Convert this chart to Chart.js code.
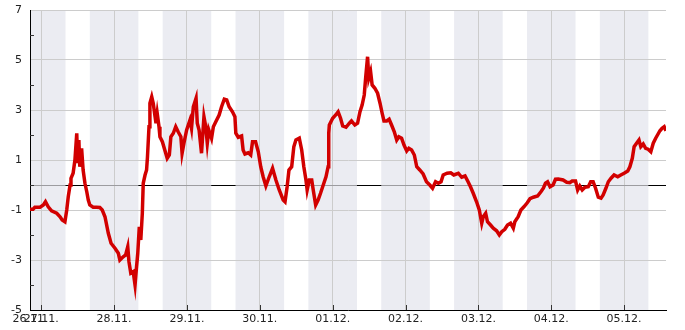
<!DOCTYPE html>
<html>
<head>
<meta charset="utf-8">
<script src="https://cdn.jsdelivr.net/npm/chart.js@4.4.1/dist/chart.umd.min.js"></script>
<style>
  html, body { margin: 0; padding: 0; background: #fff; }
  #chart { display: block; }
</style>
</head>
<body>
<canvas id="chart" width="685" height="330"></canvas>
<script>
// x in hours since 26.11. 00:00
const X_MIN = 20.3;
const X_MAX = 229.8;
const DAY_TICKS = [X_MIN, 24, 48, 72, 96, 120, 144, 168, 192, 216];
const DAY_LABELS = ['26.11.', '27.11.', '28.11.', '29.11.', '30.11.', '01.12.', '02.12.', '03.12.', '04.12.', '05.12.'];
// night shading, centred on midnight, +-8h
const NIGHT_CENTERS = [24, 48, 72, 96, 120, 144, 168, 192, 216];
const NIGHT_HALF = 8;
const Y_MIN = -5;
const Y_MAX = 7;

// [hour, value]
const POINTS = [
  [20.3,-0.97],[21.3,-0.97],[21.9,-0.89],[23.6,-0.89],[24.7,-0.8],[25.4,-0.67],[26.3,-0.87],[27.4,-1.03],
  [29.1,-1.13],[30.2,-1.27],[30.9,-1.4],[31.8,-1.47],[32.4,-1.0],[32.9,-0.47],[33.5,0.0],[33.8,0.27],
  [34.5,0.47],[35.1,1.0],[35.7,2.07],[36.0,0.87],[36.4,1.8],[36.7,0.73],[37.3,1.47],[37.8,0.6],
  [38.4,0.07],[39.0,-0.27],[39.5,-0.6],[40.0,-0.8],[41.1,-0.89],[42.2,-0.89],[43.3,-0.9],[44.1,-1.0],
  [45.0,-1.27],[46.1,-1.93],[47.0,-2.33],[48.3,-2.53],[49.4,-2.73],[49.9,-3.0],[51.0,-2.87],[51.8,-2.8],
  [52.5,-2.47],[52.9,-3.07],[53.5,-3.53],[54.3,-3.47],[54.9,-4.0],[55.4,-3.27],[55.8,-2.73],[56.3,-1.67],
  [56.8,-2.2],[57.3,-1.13],[57.6,0.07],[58.2,0.4],[58.7,0.6],[59.0,1.13],[59.5,2.33],[59.8,3.27],
  [60.4,3.53],[60.9,3.27],[61.5,2.73],[61.8,2.47],[62.2,2.87],[62.8,2.33],[63.1,1.93],[63.9,1.73],
  [64.7,1.4],[65.5,1.07],[66.2,1.2],[66.7,1.93],[67.5,2.07],[68.3,2.33],[69.1,2.13],[70.0,1.93],
  [70.4,1.27],[71.1,1.73],[71.9,2.2],[73.0,2.6],[73.5,2.27],[74.1,3.13],[75.0,3.47],[75.4,2.47],
  [76.0,2.2],[76.8,1.27],[77.6,2.73],[78.2,2.33],[78.7,1.67],[79.2,2.2],[80.1,1.87],[80.7,2.33],
  [81.5,2.53],[82.6,2.8],[83.4,3.13],[84.3,3.43],[85.1,3.4],[85.9,3.13],[87.0,2.93],[87.8,2.73],
  [88.1,2.07],[88.9,1.91],[90.0,1.96],[90.5,1.4],[91.1,1.24],[92.2,1.29],[93.0,1.2],[93.6,1.73],
  [94.6,1.73],[95.5,1.33],[96.3,0.73],[97.1,0.33],[98.0,-0.04],[99.1,0.33],[100.2,0.67],[101.3,0.2],
  [102.4,-0.2],[103.7,-0.6],[104.3,-0.67],[105.0,-0.07],[105.6,0.6],[106.5,0.73],[107.2,1.53],[107.9,1.8],
  [109.0,1.87],[109.8,1.4],[110.5,0.73],[111.2,0.2],[111.6,-0.2],[112.3,0.2],[113.1,0.2],[113.6,-0.2],
  [114.4,-0.8],[115.2,-0.6],[116.0,-0.33],[116.9,0.0],[117.8,0.33],[118.5,0.73],[118.7,2.07],[118.9,2.4],
  [120.0,2.67],[121.0,2.8],[121.8,2.93],[122.6,2.67],[123.3,2.36],[124.4,2.31],[125.5,2.47],[126.2,2.56],
  [127.3,2.4],[128.2,2.47],[129.0,2.93],[129.7,3.2],[130.4,3.6],[130.9,4.33],[131.5,5.13],[131.9,4.27],
  [132.5,4.53],[133.0,4.0],[133.9,3.87],[134.8,3.67],[135.6,3.27],[136.3,2.87],[136.9,2.56],[137.8,2.56],
  [138.6,2.63],[139.4,2.4],[140.3,2.13],[141.1,1.8],[141.8,1.93],[142.7,1.87],[143.5,1.6],[144.4,1.36],
  [145.1,1.47],[146.0,1.4],[146.9,1.2],[147.7,0.73],[148.7,0.6],[149.8,0.44],[150.9,0.13],[152.0,0.0],
  [152.9,-0.13],[153.9,0.13],[154.8,0.07],[155.7,0.13],[156.4,0.4],[157.7,0.47],[158.9,0.49],[159.9,0.4],
  [161.4,0.47],[162.5,0.31],[163.6,0.36],[164.6,0.13],[165.4,-0.07],[166.3,-0.33],[167.4,-0.67],[168.3,-1.0],
  [169.1,-1.53],[169.6,-1.27],[170.4,-1.13],[171.0,-1.47],[172.0,-1.6],[172.9,-1.73],[174.0,-1.83],[174.9,-2.0],
  [175.7,-1.87],[176.7,-1.77],[177.6,-1.6],[178.6,-1.53],[179.5,-1.73],[180.0,-1.47],[181.1,-1.27],[182.0,-1.0],
  [183.0,-0.87],[184.1,-0.71],[185.0,-0.55],[186.1,-0.49],[187.5,-0.44],[188.6,-0.27],[189.4,-0.13],[190.1,0.07],
  [190.8,0.13],[191.6,-0.07],[192.6,0.0],[193.4,0.23],[194.3,0.24],[195.9,0.2],[197.1,0.11],[198.1,0.09],
  [198.9,0.16],[200.0,0.16],[200.7,-0.2],[201.4,-0.04],[202.2,-0.2],[203.1,-0.09],[204.2,-0.07],[205.0,0.13],
  [205.8,0.13],[206.6,-0.13],[207.5,-0.49],[208.4,-0.53],[209.1,-0.4],[210.0,-0.13],[210.8,0.13],[211.7,0.27],
  [212.7,0.4],[213.9,0.33],[214.9,0.4],[216.0,0.47],[217.2,0.56],[217.9,0.73],[218.7,1.07],[219.3,1.53],
  [220.1,1.67],[220.9,1.8],[221.5,1.53],[222.3,1.64],[223.1,1.47],[223.9,1.43],[224.8,1.33],[225.6,1.67],
  [226.4,1.87],[227.0,2.0],[227.8,2.17],[228.5,2.27],[229.2,2.33],[229.8,2.17]
];

const FONT = { family: 'DejaVu Sans', size: 11 };
const BAND_COLOR = '#ebecf2';

// grey night bands, under the grid
const bandsPlugin = {
  id: 'bands',
  beforeDraw(chart) {
    const { ctx, chartArea: a, scales: { x } } = chart;
    ctx.save();
    ctx.fillStyle = BAND_COLOR;
    for (const c of NIGHT_CENTERS) {
      const x0 = Math.max(a.left, x.getPixelForValue(c - NIGHT_HALF));
      const x1 = Math.min(a.right, x.getPixelForValue(c + NIGHT_HALF));
      if (x1 > x0) ctx.fillRect(x0, a.top, x1 - x0, a.bottom - a.top);
    }
    ctx.restore();
  },
  beforeDatasetsDraw(chart) {
    const { ctx, chartArea: a, scales: { x, y } } = chart;
    ctx.save();
    // zero line: black, greyed inside the bands
    const y0 = Math.round(y.getPixelForValue(0)) + 0.5;
    ctx.lineWidth = 1;
    ctx.strokeStyle = '#000';
    ctx.beginPath(); ctx.moveTo(a.left, y0); ctx.lineTo(a.right, y0); ctx.stroke();
    ctx.strokeStyle = '#9c9ca0';
    for (const c of NIGHT_CENTERS) {
      const x0 = Math.max(a.left, x.getPixelForValue(c - NIGHT_HALF));
      const x1 = Math.min(a.right, x.getPixelForValue(c + NIGHT_HALF));
      if (x1 > x0) { ctx.beginPath(); ctx.moveTo(x0, y0); ctx.lineTo(x1, y0); ctx.stroke(); }
    }
    // inward tick marks
    ctx.strokeStyle = '#333';
    for (let v = Y_MIN; v <= Y_MAX; v++) {
      if (Math.abs(v % 2) === 1) continue;
      const py = Math.round(y.getPixelForValue(v)) + 0.5;
      ctx.beginPath(); ctx.moveTo(a.left, py); ctx.lineTo(a.left + 4, py); ctx.stroke();
    }
    for (const t of DAY_TICKS.slice(1)) {
      const px = Math.round(x.getPixelForValue(t)) + 0.5;
      ctx.beginPath(); ctx.moveTo(px, a.bottom); ctx.lineTo(px, a.bottom - 5); ctx.stroke();
    }
    ctx.restore();
  }
};

new Chart(document.getElementById('chart'), {
  type: 'line',
  data: {
    datasets: [{
      data: POINTS.map(([h, v]) => ({ x: h, y: v })),
      borderColor: '#d20000',
      borderWidth: 3.5,
      pointRadius: 0,
      tension: 0,
      fill: false,
    }],
  },
  options: {
    responsive: false,
    animation: false,
    events: [],
    layout: { padding: { top: 10, right: 19, left: 0, bottom: 0 } },
    plugins: { legend: { display: false }, tooltip: { enabled: false } },
    scales: {
      x: {
        type: 'linear',
        min: X_MIN,
        max: X_MAX,
        afterBuildTicks: (scale) => { scale.ticks = DAY_TICKS.map(v => ({ value: v })); },
        afterFit: (scale) => { scale.height = 20; },
        grid: {
          drawTicks: false,
          color: (c) => (c.index === 0 ? 'rgba(0,0,0,0)' : '#cccccc'),
        },
        border: { display: true, color: '#000', width: 1 },
        ticks: {
          autoSkip: false,
          maxRotation: 0,
          minRotation: 0,
          padding: 3,
          color: '#222',
          font: FONT,
          callback: (v, i) => DAY_LABELS[i],
        },
      },
      y: {
        min: Y_MIN,
        max: Y_MAX,
        afterFit: (scale) => {
          scale.width = 30;
          // label overhang is handled by the layout padding
          scale.paddingTop = 0;
          scale.paddingBottom = 0;
        },
        grid: {
          drawTicks: false,
          color: (c) => (Math.abs(c.tick.value % 2) === 1 ? '#cccccc' : 'rgba(0,0,0,0)'),
        },
        border: { display: true, color: '#000', width: 1 },
        ticks: {
          stepSize: 1,
          autoSkip: false,
          padding: 8,
          color: '#222',
          font: FONT,
          callback: (v) => (Math.abs(v % 2) === 1 ? String(v) : ''),
        },
      },
    },
  },
  plugins: [bandsPlugin],
});
</script>
</body>
</html>
